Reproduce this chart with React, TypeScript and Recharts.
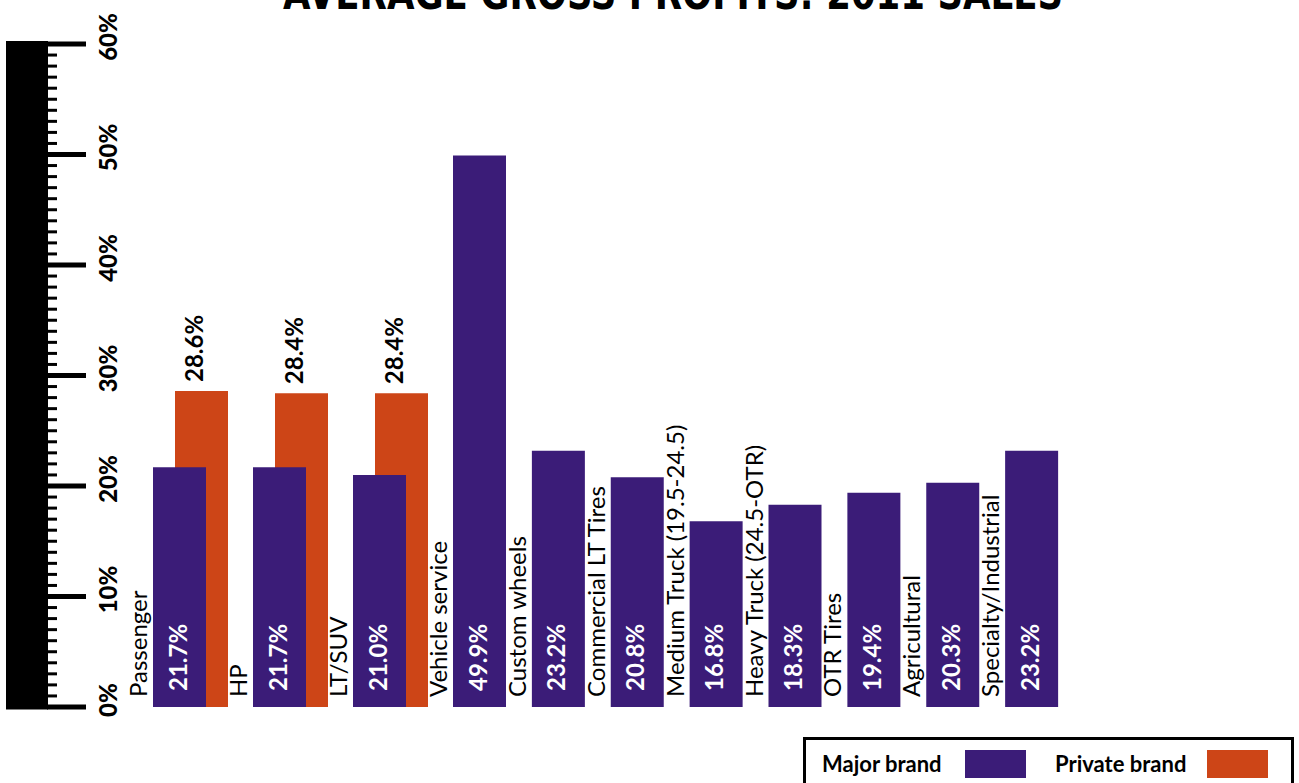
import React from 'react';
import { BarChart, Bar, XAxis, YAxis, LabelList } from 'recharts';

// ---------- data ----------
const TITLE = 'AVERAGE GROSS PROFITS: 2011 SALES';

// groups that have both a major-brand and a private-brand value
const CATEGORIES_WITH_PRIVATE = ['Passenger', 'HP', 'LT/SUV'];
const MAJOR_WITH_PRIVATE = [21.7, 21.7, 21.0];
const PRIVATE_VALUES = [28.6, 28.4, 28.4];

// groups with a major-brand value only
const CATEGORIES_MAJOR_ONLY = [
  'Vehicle service',
  'Custom wheels',
  'Commercial LT Tires',
  'Medium Truck (19.5-24.5)',
  'Heavy Truck (24.5-OTR)',
  'OTR Tires',
  'Agricultural',
  'Specialty/Industrial',
];
const MAJOR_ONLY_VALUES = [49.9, 23.2, 20.8, 16.8, 18.3, 19.4, 20.3, 23.2];

const Y_DOMAIN: [number, number] = [0, 60];
const MAJOR_TICKS = [0, 10, 20, 30, 40, 50, 60];
const MAJOR_TICK_LABELS = ['0%', '10%', '20%', '30%', '40%', '50%', '60%'];
const MINOR_STEP = 1;

const SERIES = [
  { key: 'major', name: 'Major brand', color: '#3b1c78' },
  { key: 'private', name: 'Private brand', color: '#cd4517' },
];

// ---------- derived tables ----------
const dataA = CATEGORIES_WITH_PRIVATE.map((c, i) => ({
  category: c,
  major: MAJOR_WITH_PRIVATE[i],
  private: PRIVATE_VALUES[i],
}));
const dataB = CATEGORIES_MAJOR_ONLY.map((c, i) => ({
  category: c,
  major: MAJOR_ONLY_VALUES[i],
}));
const ALL_TICKS: number[] = [];
for (let v = Y_DOMAIN[0]; v <= Y_DOMAIN[1]; v += MINOR_STEP) ALL_TICKS.push(v);

const MAJOR_COLOR = SERIES[0].color;
const PRIVATE_COLOR = SERIES[1].color;
const FONT = 'Lato, "Open Sans", sans-serif';

// ---------- chart geometry ----------
const W = 1299;
const H = 783;
const MARGIN_TOP = 44;
const MARGIN_BOTTOM = 76;

// ---------- custom renderers ----------
const YTick = (props: any) => {
  const x = Number(props.x);
  const y = Number(props.y);
  const v = Number(props.payload?.value);
  const majorIdx = MAJOR_TICKS.indexOf(v);
  const isMajor = majorIdx >= 0;
  const isTop = v === Y_DOMAIN[1];
  const isBottom = v === Y_DOMAIN[0];
  const barTop = isTop ? y - 3 : y - 6.5;
  const barBottom = isBottom ? y + 2.5 : y + 6.5;
  return (
    <g>
      <rect x={x - 116} y={barTop} width={42} height={barBottom - barTop} fill="#000" />
      <line
        x1={x - 75}
        x2={isMajor ? x - 36 : x - 65}
        y1={y}
        y2={y}
        stroke="#000"
        strokeWidth={isMajor ? 5 : 3}
      />
      {isMajor && (
        <text
          x={x - 5}
          y={y - 7}
          transform={`rotate(-90, ${x - 5}, ${y - 7})`}
          textAnchor="middle"
          fontFamily={FONT}
          fontWeight={900}
          fontSize={24}
          fill="#000"
        >
          {MAJOR_TICK_LABELS[majorIdx]}
        </text>
      )}
    </g>
  );
};

const WhiteValueLabel = (props: any) => {
  const { x, y, width, height, value } = props;
  if (value == null) return null;
  const cx = Number(x) + Number(width) / 2 + 7;
  const by = Number(y) + Number(height) - 16;
  return (
    <text
      x={cx}
      y={by}
      transform={`rotate(-90, ${cx}, ${by})`}
      textAnchor="start"
      fontFamily={FONT}
      fontWeight={700}
      fontSize={24}
      fill="#fff"
    >
      {`${Number(value).toFixed(1)}%`}
    </text>
  );
};

const TopValueLabel = (props: any) => {
  const { x, y, width, value } = props;
  if (value == null) return null;
  const cx = Number(x) + Number(width) / 2 + 2;
  const by = Number(y) - 9;
  return (
    <text
      x={cx}
      y={by}
      transform={`rotate(-90, ${cx}, ${by})`}
      textAnchor="start"
      fontFamily={FONT}
      fontWeight={700}
      fontSize={24}
      fill="#000"
    >
      {`${Number(value).toFixed(1)}%`}
    </text>
  );
};

const CategoryLabel = (props: any) => {
  const { x, y, height, value } = props;
  if (value == null) return null;
  const bx = Number(x) - 6;
  const by = Number(y) + Number(height) - 10;
  return (
    <text
      x={bx}
      y={by}
      transform={`rotate(-90, ${bx}, ${by})`}
      textAnchor="start"
      fontFamily={FONT}
      fontWeight={400}
      fontSize={24}
      fill="#000"
    >
      {String(value)}
    </text>
  );
};

const layer: React.CSSProperties = { position: 'absolute', left: 0, top: 0 };
const LEGEND_TEXT_WIDTHS = [143, 152];

export default function App() {
  return (
    <div
      style={{
        position: 'absolute',
        left: 0,
        top: 0,
        width: W,
        height: H,
        background: '#fff',
        overflow: 'hidden',
      }}
    >
      {/* Title (cut off by the top edge in the original) */}
      <svg width={W} height={H} style={layer}>
        <text
          x={673}
          y={9}
          textAnchor="middle"
          fontFamily='"DejaVu Sans Condensed", "DejaVu Sans", sans-serif'
          fontWeight={700}
          fontSize={44}
          textLength={780}
          lengthAdjust="spacingAndGlyphs"
          fill="#000"
        >
          {TITLE}
        </text>
      </svg>

      {/* Groups with a private-brand bar, plus the y axis */}
      <div style={layer}>
        <BarChart
          width={W}
          height={H}
          data={dataA}
          margin={{ top: MARGIN_TOP, right: W - 440, bottom: MARGIN_BOTTOM, left: 0 }}
          barSize={53}
          barGap={-75}
        >
          <YAxis
            domain={Y_DOMAIN}
            ticks={ALL_TICKS}
            interval={0}
            width={122}
            axisLine={false}
            tickLine={false}
            tickSize={0}
            tickMargin={0}
            tick={(p: any) => <YTick {...p} />}
          />
          <Bar dataKey="private" name={SERIES[1].name} fill={PRIVATE_COLOR} isAnimationActive={false}>
            <LabelList dataKey="private" content={TopValueLabel} />
          </Bar>
          <Bar dataKey="major" name={SERIES[0].name} fill={MAJOR_COLOR} isAnimationActive={false}>
            <LabelList dataKey="major" content={WhiteValueLabel} />
            <LabelList dataKey="category" content={CategoryLabel} />
          </Bar>
          <XAxis
            dataKey="category"
            height={0}
            tick={false}
            tickLine={false}
            axisLine={{ stroke: '#000', strokeWidth: 4 }}
            padding={{ left: 18, right: 0 }}
          />
        </BarChart>
      </div>

      {/* Groups with a major-brand bar only */}
      <div style={layer}>
        <BarChart
          width={W}
          height={H}
          data={dataB}
          margin={{ top: MARGIN_TOP, right: W - 1057, bottom: MARGIN_BOTTOM, left: 440 }}
          barSize={53}
        >
          <YAxis domain={Y_DOMAIN} hide />
          <Bar dataKey="major" name={SERIES[0].name} fill={MAJOR_COLOR} isAnimationActive={false}>
            <LabelList dataKey="major" content={WhiteValueLabel} />
            <LabelList dataKey="category" content={CategoryLabel} />
          </Bar>
          <XAxis
            dataKey="category"
            height={0}
            tick={false}
            tickLine={false}
            axisLine={{ stroke: '#000', strokeWidth: 4 }}
            padding={{ left: 0, right: -14 }}
          />
        </BarChart>
      </div>

      {/* Legend */}
      <div
        style={{
          position: 'absolute',
          left: 803,
          top: 737,
          width: 491,
          height: 60,
          border: '3px solid #000',
          boxSizing: 'border-box',
          display: 'flex',
          alignItems: 'flex-start',
          paddingLeft: 16,
          paddingTop: 10,
          fontFamily: FONT,
          fontWeight: 700,
          fontSize: 22,
          color: '#000',
        }}
      >
        {SERIES.map((s, i) => (
          <div
            key={s.key}
            style={{ display: 'flex', alignItems: 'center', marginLeft: i === 0 ? 0 : 29 }}
          >
            <span style={{ lineHeight: '28px', width: LEGEND_TEXT_WIDTHS[i], whiteSpace: 'nowrap' }}>
              {s.name}
            </span>
            <span
              style={{
                display: 'inline-block',
                width: 61,
                height: 28,
                background: s.color,
              }}
            />
          </div>
        ))}
      </div>
    </div>
  );
}
